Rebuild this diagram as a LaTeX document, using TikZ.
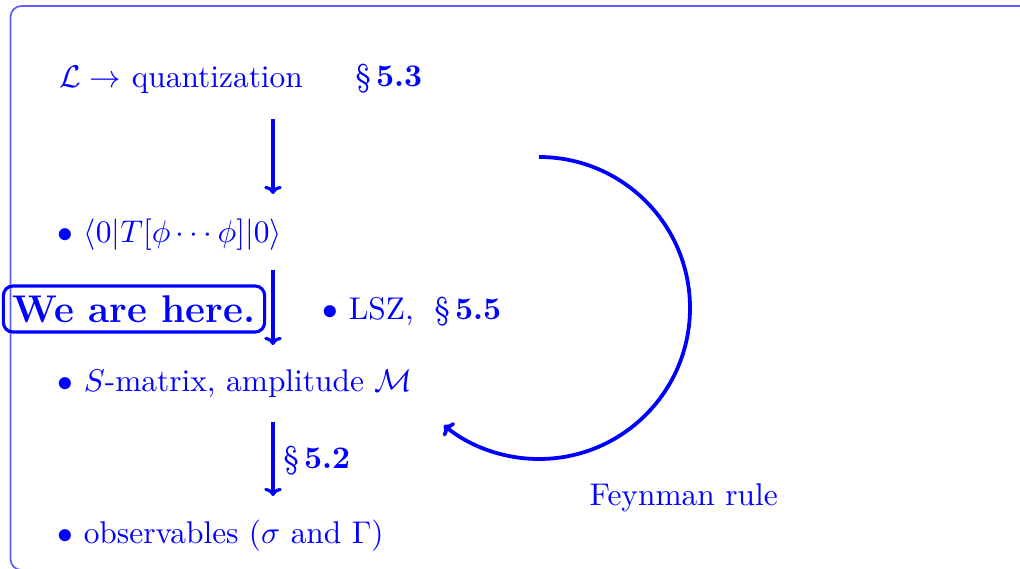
\documentclass[tikz,border=0pt]{standalone}
\usepackage{amsmath,amssymb}
\usepackage{xcolor}
\usepackage{tikz}
\usetikzlibrary{arrows.meta,positioning}
\definecolor{NoteBlue}{HTML}{0000FF}
\definecolor{FrameBlue}{HTML}{5C5CFF}

\begin{document}
\begin{tikzpicture}[x=0.3185pt,y=0.3185pt,
  txt/.style={anchor=base west,inner sep=0pt,text=NoteBlue},
  flow/.style={-{To[length=2.6pt,width=5.6pt]},line width=1pt,draw=NoteBlue},
  herebox/.style={draw=NoteBlue,line width=1pt,rounded corners=3pt,inner sep=3pt,text=NoteBlue,font=\fontsize{12.3pt}{14pt}\selectfont\bfseries}]
\useasboundingbox (0,0) rectangle (1020,568);
\draw[draw=FrameBlue,line width=0.55pt,rounded corners=3.5pt] (10.5,-2) rectangle (1040,562);
% chain of steps
\node[txt] (lag) at (59,480) {$\mathcal{L}\to$ quantization};
\node[txt] (sec53) at (355,481) {\S\,\textbf{5.3}};
\node[txt] (green) at (57,325) {$\bullet$ $\langle 0|T[\phi\cdots\phi]|0\rangle$};
\node[txt] (smat) at (57,176) {$\bullet$ $S$-matrix, amplitude $\mathcal{M}$};
\node[txt] (obs) at (57,25) {$\bullet$ observables ($\sigma$ and $\Gamma$)};
\node[txt] (lsz) at (322,249) {$\bullet$ LSZ,\ \ \S\,\textbf{5.5}};
\node[txt] (sec52) at (283,100) {\S\,\textbf{5.2}};
\node[herebox] (here) at (134,259) {We are here.};
\node[txt] (feyn) at (589,63) {Feynman rule};
% arrows
\coordinate (a1s) at (273,449); \coordinate (a1e) at (273,374);
\coordinate (a2s) at (273,298); \coordinate (a2e) at (273,223);
\coordinate (a3s) at (273,146); \coordinate (a3e) at (273,72);
\draw[flow] (a1s) -- (a1e);
\draw[flow] (a2s) -- (a2e);
\draw[flow] (a3s) -- (a3e);
% Feynman loop
\coordinate (loopc) at (539,260);
\draw[flow,line width=1.2pt] ([shift={(90:151)}]loopc) arc[start angle=90,end angle=-129,radius=151];
\end{tikzpicture}
\end{document}
